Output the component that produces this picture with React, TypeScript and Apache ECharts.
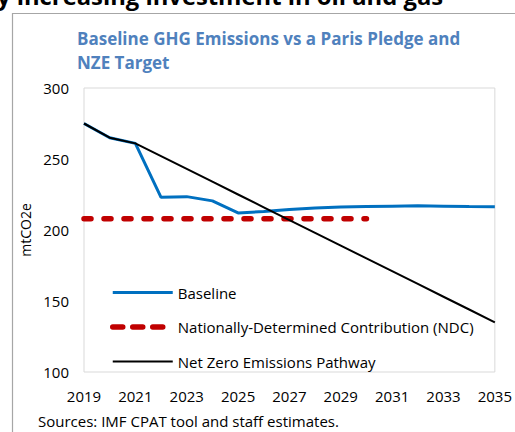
import React, { useEffect, useRef } from "react";
import * as echarts from "echarts";

const years = ["2019","2020","2021","2022","2023","2024","2025","2026","2027","2028","2029","2030","2031","2032","2033","2034","2035"];
const baseline = [275, 265, 261, 223, 223.5, 220.5, 212, 213, 214.5, 215.5, 216.2, 216.5, 216.8, 217, 216.8, 216.5, 216.3];
const ndc = [208, 208, 208, 208, 208, 208, 208, 208, 208, 208, 208, 208, null, null, null, null, null];
const nze = [275, 265, 261, 252, 243, 234, 225, 216, 207, 198, 189, 180, 171, 162, 153, 144, 135];
const yTicks = { min: 100, max: 300, interval: 50 };

const FONT = "'Open Sans', 'Noto Sans', sans-serif";
const NDC_DASH = { color: "#C00000", width: 5.5, type: [7, 13], cap: "round" };
const NDC_DASH_LEGEND = { color: "#C00000", width: 5.5, type: [10, 10], cap: "round" };

export default function App() {
  const ref = useRef<HTMLDivElement>(null);
  useEffect(() => {
    if (!ref.current) return;
    const chart = echarts.init(ref.current, undefined, { renderer: "svg" });
    chart.setOption({
      animation: false,
      backgroundColor: "#ffffff",
      textStyle: { fontFamily: FONT },
      title: {
        text: "Baseline GHG Emissions vs a Paris Pledge and\nNZE Target",
        left: 72,
        top: 22,
        textStyle: { color: "#4F81BD", fontSize: 17, fontWeight: "bold", lineHeight: 23.5, fontFamily: FONT },
      },
      graphic: [
        {
          type: "rect",
          shape: { x: 12.5, y: 13.5, width: 600, height: 500 },
          style: { fill: "none", stroke: "#a6a6a6", lineWidth: 1.2 },
          silent: true,
        },
        {
          type: "text",
          x: -3,
          y: -4,
          style: {
            text: "y increasing investment in oil and gas",
            font: `bold 23.8px ${FONT}`,
            fill: "#000",
            verticalAlign: "middle",
            align: "left",
          },
        },
        {
          type: "text",
          x: 38,
          y: 421,
          style: {
            text: "Sources: IMF CPAT tool and staff estimates.",
            font: `15px ${FONT}`,
            fill: "#000",
            verticalAlign: "middle",
            align: "left",
          },
        },
      ],
      legend: {
        orient: "vertical",
        left: 105,
        top: 280,
        itemWidth: 60,
        itemHeight: 14,
        itemGap: 19.5,
        itemStyle: { opacity: 0 },
        textStyle: { fontSize: 15, color: "#000", fontFamily: FONT },
        data: [
          { name: "Baseline", lineStyle: { color: "#0070C0", width: 3 } },
          { name: "Nationally-Determined Contribution (NDC)", lineStyle: NDC_DASH_LEGEND },
          { name: "Net Zero Emissions Pathway", lineStyle: { color: "#000000", width: 2 } },
        ],
      },
      grid: {
        left: 84,
        right: 17,
        top: 88,
        bottom: 60,
        show: true,
        borderColor: "#d9d9d9",
        borderWidth: 1,
        containLabel: false,
      },
      xAxis: {
        type: "category",
        data: years,
        boundaryGap: false,
        axisLine: { show: false },
        axisTick: { show: false },
        axisLabel: { interval: 1, color: "#000", fontSize: 15, margin: 16, fontFamily: FONT },
        splitLine: { show: false },
      },
      yAxis: {
        type: "value",
        min: yTicks.min,
        max: yTicks.max,
        interval: yTicks.interval,
        name: "mtCO2e",
        nameLocation: "middle",
        nameGap: 50,
        nameTextStyle: { color: "#000", fontSize: 14, fontFamily: FONT },
        axisLine: { show: false },
        axisTick: { show: false },
        axisLabel: { color: "#000", fontSize: 15, margin: 15, fontFamily: FONT },
        splitLine: { show: false },
      },
      series: [
        {
          name: "Baseline",
          type: "line",
          data: baseline,
          symbol: "none",
          lineStyle: { color: "#0070C0", width: 3 },
          itemStyle: { color: "#0070C0" },
          z: 3,
        },
        {
          name: "Nationally-Determined Contribution (NDC)",
          type: "line",
          data: ndc,
          symbol: "none",
          lineStyle: NDC_DASH,
          itemStyle: { color: "#C00000" },
          z: 2,
        },
        {
          name: "Net Zero Emissions Pathway",
          type: "line",
          data: nze,
          symbol: "none",
          lineStyle: { color: "#000000", width: 2 },
          itemStyle: { color: "#000000" },
          z: 4,
        },
      ],
    });
    return () => chart.dispose();
  }, []);
  return <div ref={ref} style={{ width: 515, height: 432, position: "absolute", left: 0, top: 0 }} />;
}
